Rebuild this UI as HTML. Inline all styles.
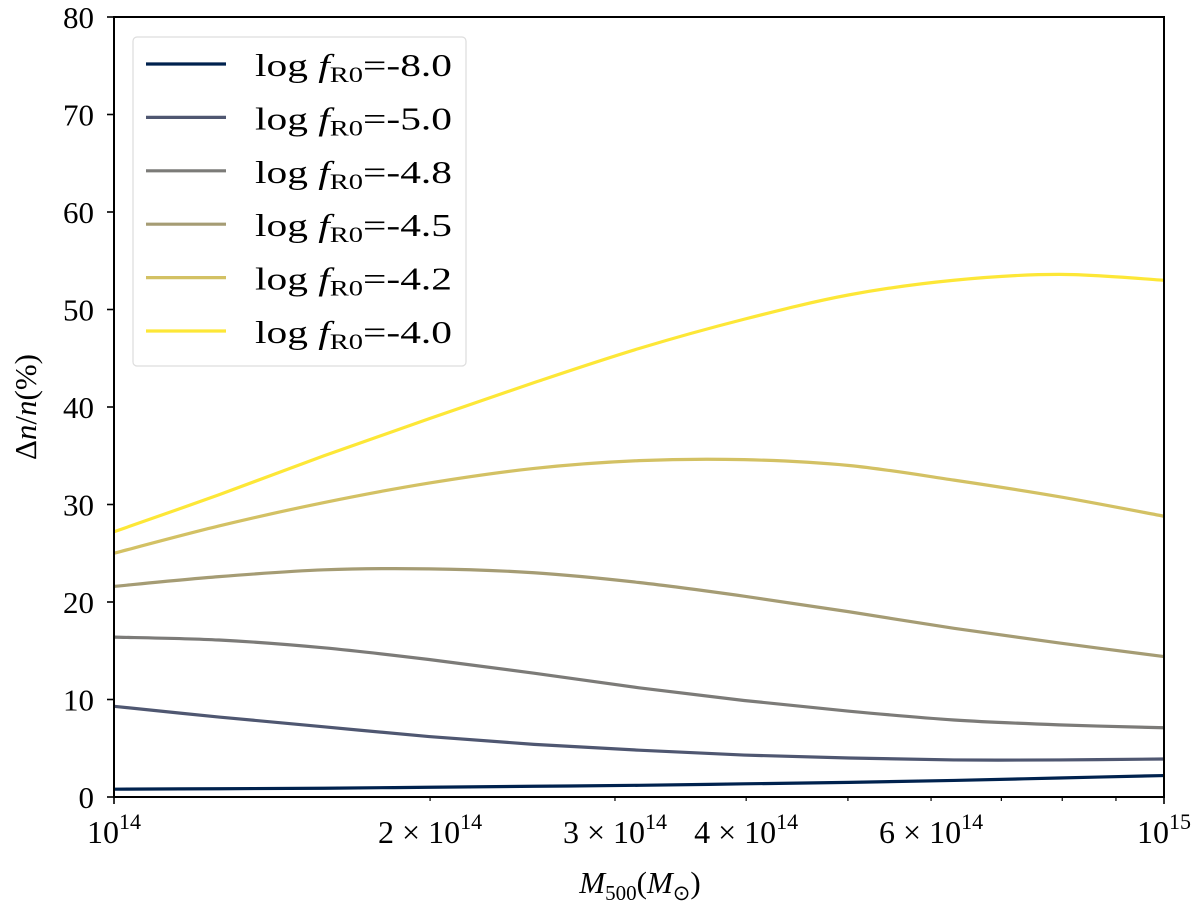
<!DOCTYPE html>
<html><head><meta charset="utf-8">
<style>
html,body{margin:0;padding:0;background:#fff;}
svg{display:block;font-family:"Liberation Serif",serif;}
</style></head>
<body>
<svg id="chart" width="1200" height="909" viewBox="0 0 1200 909"></svg>
<script>
const xLogs = [14.0,14.1,14.2,14.3,14.4,14.5,14.6,14.7,14.8,14.9,15.0];
const labels = ["-8.0","-5.0","-4.8","-4.5","-4.2","-4.0"];
const colors = ["#00224e","#4f5771","#7c7b78","#a59c74","#d3c164","#fde737"];
const s80 = [0.8,0.85,0.9,1.0,1.1,1.2,1.35,1.5,1.7,1.95,2.2];
const s50 = [9.3,8.2,7.2,6.2,5.4,4.8,4.3,4.0,3.8,3.8,3.9];
const s48 = [16.4,16.1,15.3,14.1,12.7,11.2,9.9,8.8,7.9,7.4,7.1];
const s45 = [21.6,22.6,23.3,23.4,23.0,22.0,20.6,19.0,17.3,15.8,14.4];
const s42 = [25.0,27.8,30.2,32.2,33.7,34.5,34.6,34.0,32.5,30.8,28.8];
const s40 = [27.2,31.0,35.0,38.8,42.5,46.0,49.0,51.5,53.0,53.6,53.0];
const series = [s80,s50,s48,s45,s42,s40];
const yTicks = [0,10,20,30,40,50,60,70,80];

const L=114,R=1164,T=17,B=797;
const X = lg => L + (lg-14)*(R-L);
const Y = v => B - v*(B-T)/80;
const svg = document.getElementById('chart');
const NS='http://www.w3.org/2000/svg';
function mk(tag, attrs, parent){const e=document.createElementNS(NS,tag);for(const k in attrs)e.setAttribute(k,attrs[k]);(parent||svg).appendChild(e);return e;}

series.forEach((s,i)=>{
  const p = s.map((v,j)=>[X(xLogs[j]),Y(v)]);
  let d = `M${p[0][0]},${p[0][1]}`;
  for(let j=0;j<p.length-1;j++){
    const p0=p[Math.max(j-1,0)],p1=p[j],p2=p[j+1],p3=p[Math.min(j+2,p.length-1)];
    const c1=[p1[0]+(p2[0]-p0[0])/6,p1[1]+(p2[1]-p0[1])/6];
    const c2=[p2[0]-(p3[0]-p1[0])/6,p2[1]-(p3[1]-p1[1])/6];
    d+=` C${c1[0]},${c1[1]} ${c2[0]},${c2[1]} ${p2[0]},${p2[1]}`;
  }
  const path = mk('path',{d:d,fill:'none',stroke:colors[i],'stroke-width':3.2});
  
  
});

const frame = mk('rect',{x:L,y:T,width:R-L,height:B-T,fill:'none',stroke:'#000','stroke-width':2});



yTicks.forEach(v=>{
  mk('line',{x1:L-7,x2:L,y1:Y(v),y2:Y(v),stroke:'#000','stroke-width':1.6});
  const t = mk('text',{x:L-20,y:Y(v)+11,'text-anchor':'end','font-size':31});
  t.textContent=v;
  
  
});

for(let m=2;m<=9;m++){
  const x=X(14+Math.log10(m));
  mk('line',{x1:x,x2:x,y1:B,y2:B+4,stroke:'#000','stroke-width':1.2});
}
[14,15].forEach(lg=>mk('line',{x1:X(lg),x2:X(lg),y1:B,y2:B+7,stroke:'#000','stroke-width':1.6}));
const xl = [[14,'',14],[14+Math.log10(2),'2 × ',14],[14+Math.log10(3),'3 × ',14],[14+Math.log10(4),'4 × ',14],[14+Math.log10(6),'6 × ',14],[15,'',15]];
xl.forEach(([lg,pre,e])=>{
  const t = mk('text',{x:X(lg),y:B+46,'text-anchor':'middle','font-size':32});
  t.innerHTML = `${pre}10<tspan dy="-14" font-size="22">${e}</tspan>`;
  
  
});

const xt = mk('text',{x:640,y:893,'text-anchor':'middle','font-size':31});
xt.innerHTML='<tspan font-style="italic">M</tspan><tspan font-size="21" dy="7">500</tspan><tspan dy="-7">(</tspan><tspan font-style="italic">M</tspan><tspan font-size="21" dy="7">⊙</tspan><tspan dy="-7">)</tspan>';


const yt = mk('text',{x:0,y:0,'text-anchor':'middle','font-size':31,transform:'translate(36,407) rotate(-90)'});
yt.innerHTML='Δ<tspan font-style="italic">n</tspan>/<tspan font-style="italic">n</tspan>(%)';



const lg = mk('g',{});


mk('rect',{x:133,y:37,width:333,height:329,rx:4,fill:'#fff','fill-opacity':0.85,stroke:'#ddd','stroke-width':1.2},lg);
labels.forEach((lab,i)=>{
  const y = 64 + i*53.4;
  const ln = mk('line',{x1:146,x2:226,y1:y,y2:y,stroke:colors[i],'stroke-width':3.2},lg);
  
  
  const t = mk('text',{x:255,y:y+12,'font-size':32,textLength:197,lengthAdjust:'spacingAndGlyphs'},lg);
  t.innerHTML = `log <tspan font-style="italic">f</tspan><tspan font-size="22" dy="6">R0</tspan><tspan dy="-6">=${lab}</tspan>`;
  
  
});
</script>
</body></html>
